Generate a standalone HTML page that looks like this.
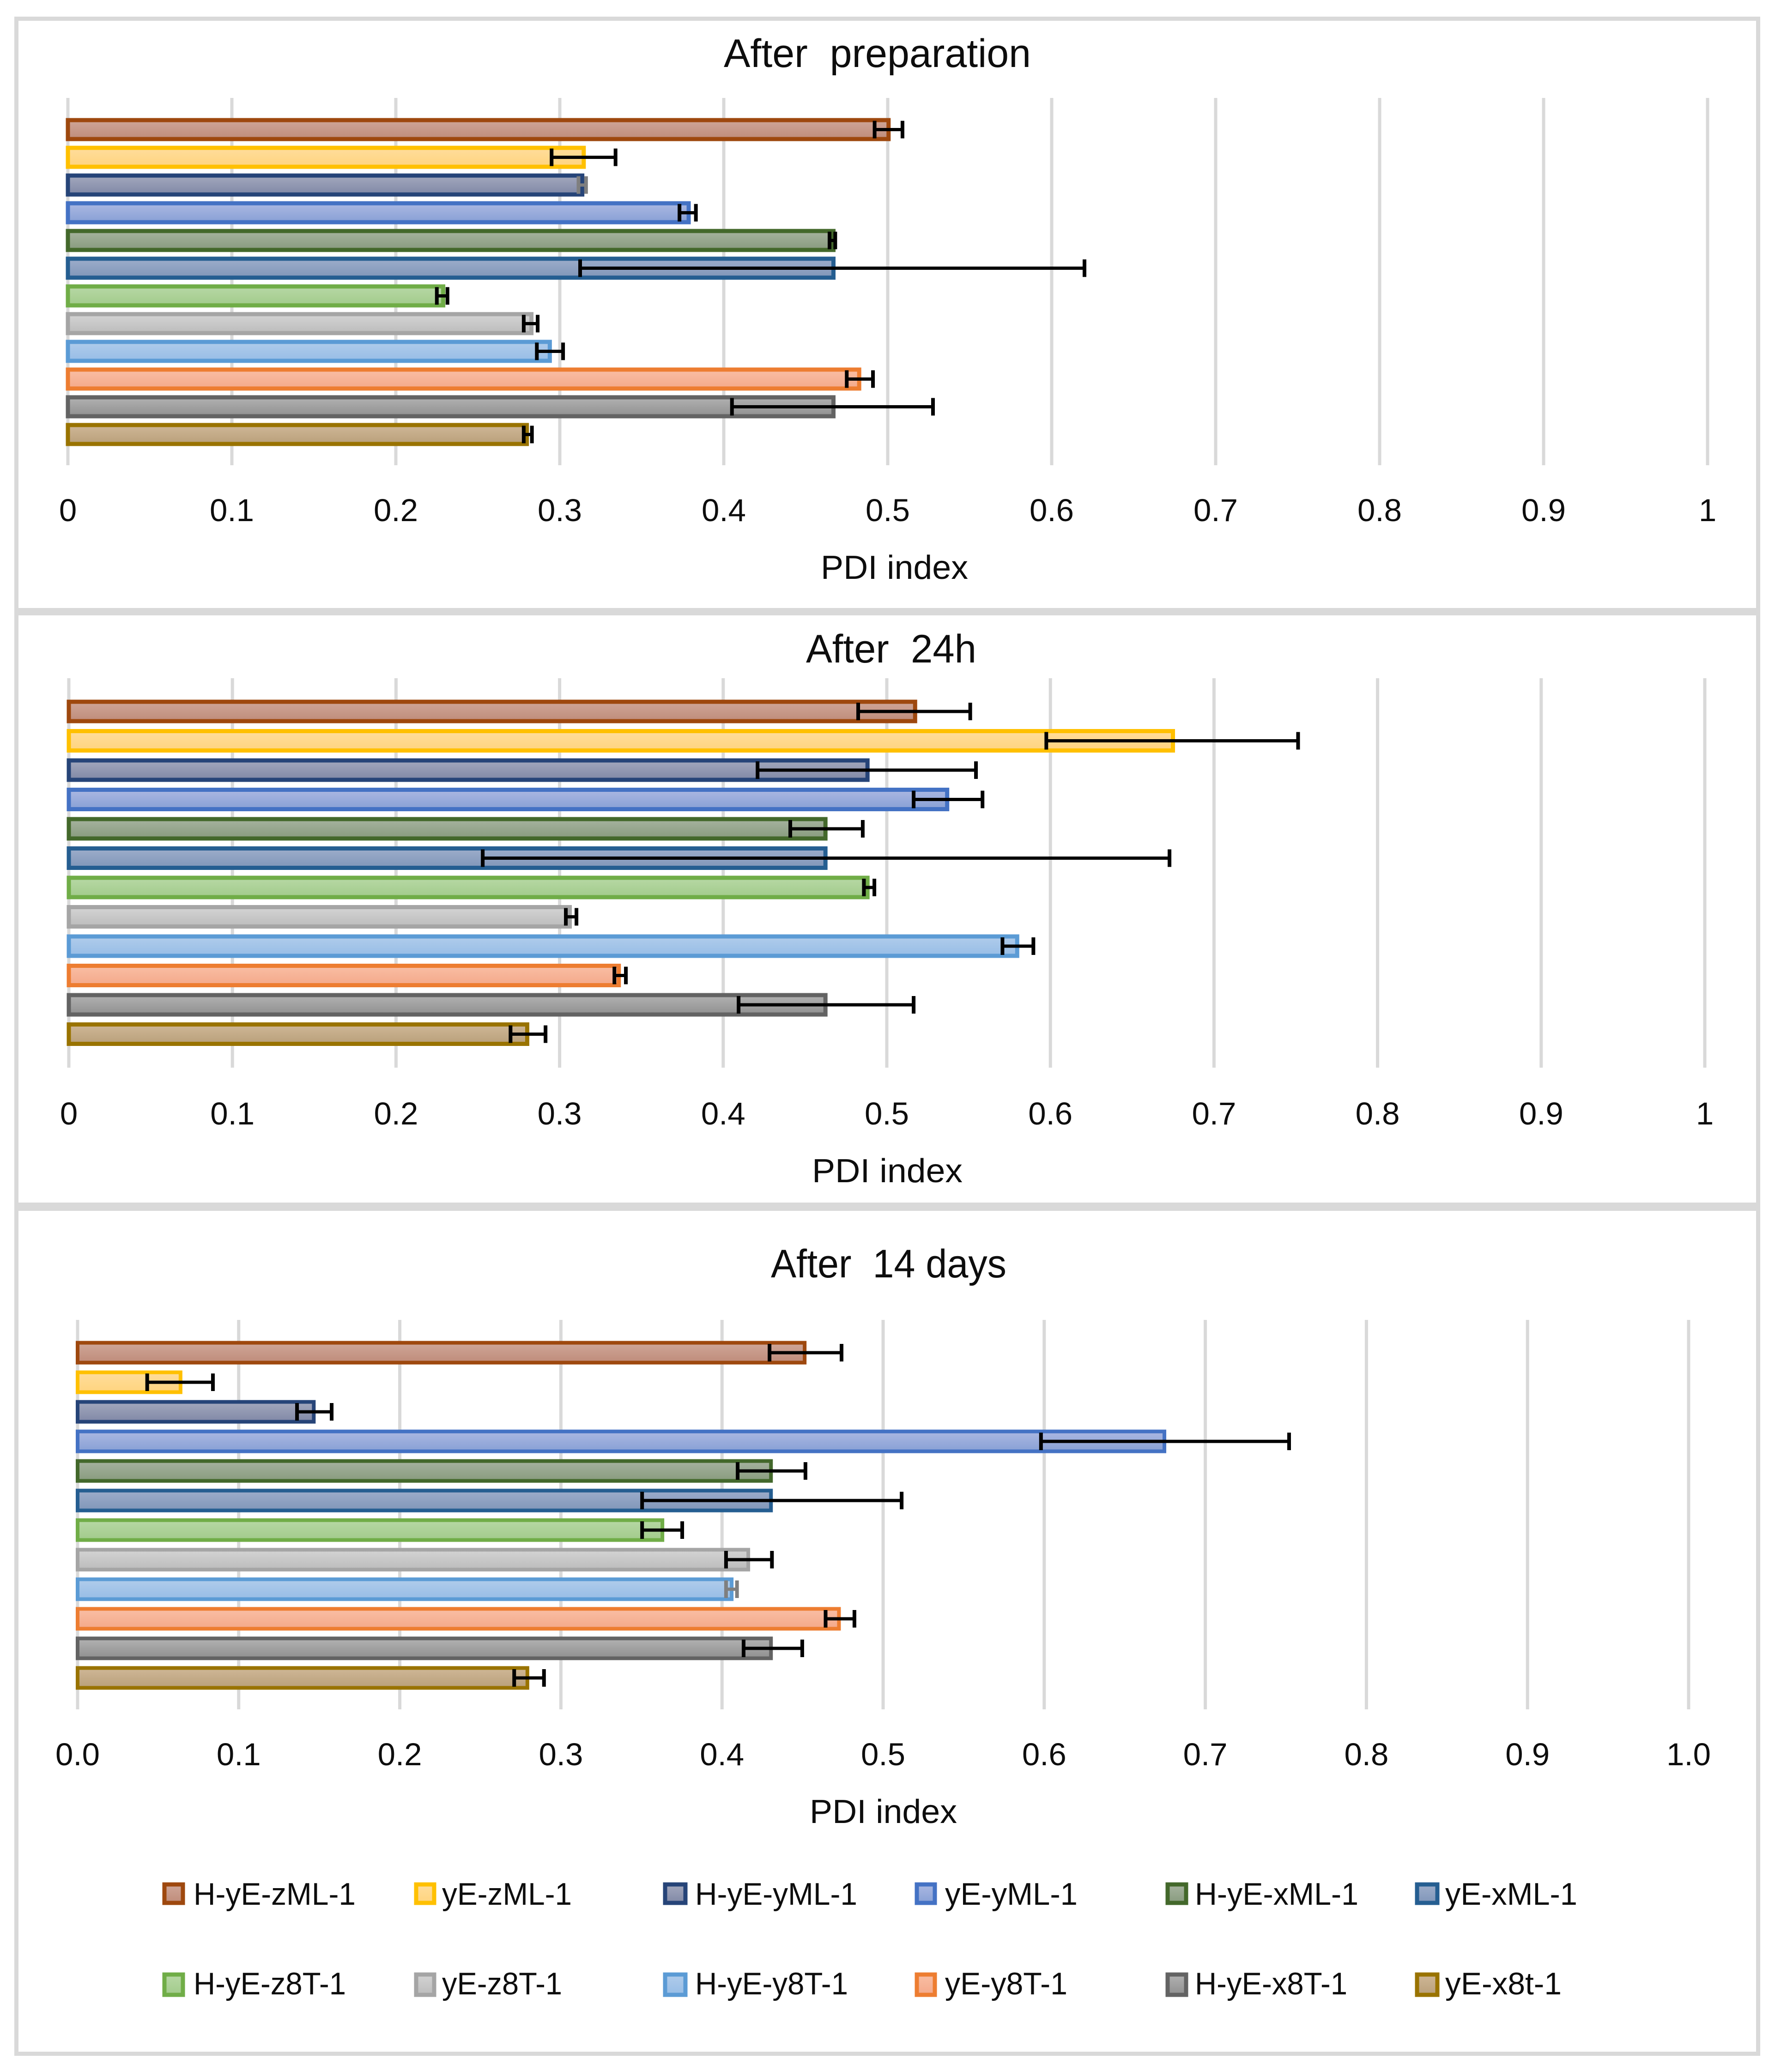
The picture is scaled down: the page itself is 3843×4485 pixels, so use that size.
<!DOCTYPE html>
<html lang="en">
<head>
<meta charset="utf-8">
<title>PDI index charts</title>
<style>
  html, body { margin: 0; padding: 0; background: #ffffff; }
  svg { display: block; }
  text { font-family: "Liberation Sans", sans-serif; fill: #0d0d0d; white-space: pre; }
</style>
</head>
<body>
<svg id="figure" xmlns="http://www.w3.org/2000/svg" width="3843" height="4485" viewBox="0 0 3843 4485">
  <rect x="0" y="0" width="3843" height="4485" fill="#ffffff"/>
  <defs id="gradients"></defs>
  <g fill="#d9d9d9">
    <rect x="31" y="36" width="9" height="4414"/>
    <rect x="3802" y="36" width="9" height="4414"/>
    <rect x="31" y="36" width="3780" height="9"/>
    <rect x="31" y="1316" width="3780" height="16"/>
    <rect x="31" y="2603" width="3780" height="18"/>
    <rect x="31" y="4441" width="3780" height="9"/>
  </g>
  <g id="charts"></g>
  <g font-size="68">
    <g><rect x="356" y="4079" width="40" height="40" fill="url(#grad-0)" stroke="#9E480E" stroke-width="9"/><text x="419" y="4123" textLength="351" lengthAdjust="spacingAndGlyphs">H-yE-zML-1</text></g>
    <g><rect x="901" y="4079" width="39" height="40" fill="url(#grad-1)" stroke="#FFC000" stroke-width="9"/><text x="957" y="4123" textLength="281" lengthAdjust="spacingAndGlyphs">yE-zML-1</text></g>
    <g><rect x="1440" y="4079" width="44" height="40" fill="url(#grad-2)" stroke="#264478" stroke-width="9"/><text x="1505" y="4123" textLength="351" lengthAdjust="spacingAndGlyphs">H-yE-yML-1</text></g>
    <g><rect x="1985" y="4079" width="39" height="40" fill="url(#grad-3)" stroke="#4472C4" stroke-width="9"/><text x="2046" y="4123" textLength="287" lengthAdjust="spacingAndGlyphs">yE-yML-1</text></g>
    <g><rect x="2528" y="4079" width="40" height="40" fill="url(#grad-4)" stroke="#43682B" stroke-width="9"/><text x="2587" y="4123" textLength="354" lengthAdjust="spacingAndGlyphs">H-yE-xML-1</text></g>
    <g><rect x="3068" y="4079" width="44" height="40" fill="url(#grad-5)" stroke="#255E91" stroke-width="9"/><text x="3129" y="4123" textLength="286" lengthAdjust="spacingAndGlyphs">yE-xML-1</text></g>
    <g><rect x="356" y="4274" width="40" height="44" fill="url(#grad-6)" stroke="#70AD47" stroke-width="9"/><text x="419" y="4317" textLength="330" lengthAdjust="spacingAndGlyphs">H-yE-z8T-1</text></g>
    <g><rect x="901" y="4274" width="39" height="44" fill="url(#grad-7)" stroke="#A5A5A5" stroke-width="9"/><text x="957" y="4317" textLength="260" lengthAdjust="spacingAndGlyphs">yE-z8T-1</text></g>
    <g><rect x="1440" y="4274" width="44" height="44" fill="url(#grad-8)" stroke="#5B9BD5" stroke-width="9"/><text x="1505" y="4317" textLength="331" lengthAdjust="spacingAndGlyphs">H-yE-y8T-1</text></g>
    <g><rect x="1985" y="4274" width="39" height="44" fill="url(#grad-9)" stroke="#ED7D31" stroke-width="9"/><text x="2046" y="4317" textLength="265" lengthAdjust="spacingAndGlyphs">yE-y8T-1</text></g>
    <g><rect x="2528" y="4274" width="40" height="44" fill="url(#grad-10)" stroke="#636363" stroke-width="9"/><text x="2587" y="4317" textLength="330" lengthAdjust="spacingAndGlyphs">H-yE-x8T-1</text></g>
    <g><rect x="3068" y="4274" width="44" height="44" fill="url(#grad-11)" stroke="#997300" stroke-width="9"/><text x="3129" y="4317" textLength="252" lengthAdjust="spacingAndGlyphs">yE-x8t-1</text></g>
  </g>
</svg>
<script>
// ---- Data ----
const seriesNames = ['H-yE-zML-1','yE-zML-1','H-yE-yML-1','yE-yML-1','H-yE-xML-1','yE-xML-1','H-yE-z8T-1','yE-z8T-1','H-yE-y8T-1','yE-y8T-1','H-yE-x8T-1','yE-x8t-1'];

const prepValues = [0.5005,0.3146,0.3137,0.3786,0.4669,0.4669,0.2289,0.2827,0.2939,0.4826,0.4669,0.2799];
const prepLow    = [0.492,0.295,0.3114,0.373,0.4645,0.3124,0.225,0.278,0.286,0.475,0.405,0.278];
const prepHigh   = [0.509,0.334,0.316,0.383,0.468,0.62,0.2315,0.2865,0.302,0.491,0.5276,0.283];

const day1Values = [0.5173,0.6749,0.4882,0.5369,0.4625,0.4625,0.4882,0.3062,0.5797,0.3362,0.4625,0.2802];
const day1Low    = [0.4825,0.5975,0.421,0.5164,0.441,0.253,0.486,0.3038,0.5707,0.3335,0.4094,0.27];
const day1High   = [0.551,0.7514,0.5545,0.5585,0.4853,0.6728,0.4924,0.3103,0.5896,0.3405,0.5164,0.2914];

const day14Values = [0.4513,0.0639,0.1466,0.6746,0.4304,0.4304,0.363,0.4163,0.406,0.4726,0.4304,0.2792];
const day14Low    = [0.4295,0.0432,0.1362,0.598,0.4097,0.3504,0.3504,0.4025,0.4025,0.4643,0.4134,0.271];
const day14High   = [0.4742,0.084,0.1577,0.752,0.4518,0.5115,0.3753,0.431,0.4093,0.4822,0.4498,0.2895];

const tickValues = [0,0.1,0.2,0.3,0.4,0.5,0.6,0.7,0.8,0.9,1];
const tickLabelsPlain = ['0','0.1','0.2','0.3','0.4','0.5','0.6','0.7','0.8','0.9','1'];
const tickLabelsFixed = ['0.0','0.1','0.2','0.3','0.4','0.5','0.6','0.7','0.8','0.9','1.0'];

// ---- Styling ----
const strokeColors = ['#9E480E','#FFC000','#264478','#4472C4','#43682B','#255E91','#70AD47','#A5A5A5','#5B9BD5','#ED7D31','#636363','#997300'];
const fillTop    = ['#CFA698','#FFDD9C','#A3A8BD','#ABB8E2','#A6B39F','#9DADCA','#B7D8A5','#D4D4D4','#B0CCEB','#F9BEA4','#B2B2B2','#CFB797'];
const fillBottom = ['#BF8C7A','#FFD47E','#8088A6','#88A0D5','#889B7E','#8096B9','#A2CB8B','#BCBCBC','#97BDE6','#F4A98A','#909090','#B9A07A'];

const NS = 'http://www.w3.org/2000/svg';
function make(tag, attrs) {
  const node = document.createElementNS(NS, tag);
  for (const key in attrs) node.setAttribute(key, attrs[key]);
  return node;
}

const defs = document.getElementById('gradients');
seriesNames.forEach(function (name, i) {
  const grad = make('linearGradient', { id: 'grad-' + i, x1: 0, y1: 0, x2: 0, y2: 1 });
  grad.appendChild(make('stop', { offset: '0%', 'stop-color': fillTop[i] }));
  grad.appendChild(make('stop', { offset: '100%', 'stop-color': fillBottom[i] }));
  defs.appendChild(grad);
});

function slug(text) {
  return text.toLowerCase().replace(/[^a-z0-9]+/g, '-');
}

function drawChart(cfg) {
  const root = document.getElementById('charts');
  const x = function (v) { return cfg.x0 + v * (cfg.x1 - cfg.x0); };
  const y = function (i) { return cfg.firstBar + i * cfg.barStep; };

  const chart = make('g', {});
  
  
  root.appendChild(chart);

  const title = make('text', { x: cfg.titleX, y: cfg.titleY, 'font-size': 86, textLength: cfg.titleW, lengthAdjust: 'spacingAndGlyphs' });
  
  
  title.textContent = cfg.title;
  chart.appendChild(title);

  tickValues.forEach(function (t, k) {
    const grid = make('line', { x1: x(t), x2: x(t), y1: cfg.gridTop, y2: cfg.gridBottom, stroke: '#d9d9d9', 'stroke-width': 7 });
    
    
    chart.appendChild(grid);

    const label = make('text', { x: x(t), y: cfg.tickY, 'font-size': 69, 'text-anchor': 'middle' });
    
    
    label.textContent = cfg.tickLabels[k];
    chart.appendChild(label);
  });

  const axisTitle = make('text', { x: cfg.axisX, y: cfg.axisY, 'font-size': 72, textLength: cfg.axisW, lengthAdjust: 'spacingAndGlyphs' });
  
  
  axisTitle.textContent = 'PDI index';
  chart.appendChild(axisTitle);

  cfg.values.forEach(function (v, i) {
    const bar = make('rect', {
      x: x(0), y: y(i) - cfg.barH / 2, width: x(v) - x(0), height: cfg.barH,
      fill: 'url(#grad-' + i + ')', stroke: strokeColors[i], 'stroke-width': cfg.barStroke
    });
    
    
    chart.appendChild(bar);
  });

  cfg.values.forEach(function (v, i) {
    const colour = cfg.greyError === i ? '#7f7f7f' : '#000000';
    const group = make('g', { stroke: colour, fill: 'none' });
    
    
    group.appendChild(make('line', { x1: x(cfg.low[i]), x2: x(cfg.high[i]), y1: y(i), y2: y(i), 'stroke-width': 7 }));
    group.appendChild(make('line', { x1: x(cfg.low[i]), x2: x(cfg.low[i]), y1: y(i) - 19, y2: y(i) + 19, 'stroke-width': 8 }));
    group.appendChild(make('line', { x1: x(cfg.high[i]), x2: x(cfg.high[i]), y1: y(i) - 19, y2: y(i) + 19, 'stroke-width': 8 }));
    chart.appendChild(group);
  });
}

drawChart({
  title: 'After  preparation', titleX: 1567, titleY: 145, titleW: 665,
  values: prepValues, low: prepLow, high: prepHigh, greyError: 2,
  tickLabels: tickLabelsPlain,
  x0: 147, x1: 3697, gridTop: 212, gridBottom: 1007, tickY: 1128,
  firstBar: 280.5, barStep: 60, barH: 41, barStroke: 9,
  axisX: 1777, axisY: 1253, axisW: 319
});

drawChart({
  title: 'After  24h', titleX: 1745, titleY: 1434, titleW: 369,
  values: day1Values, low: day1Low, high: day1High, greyError: -1,
  tickLabels: tickLabelsPlain,
  x0: 149, x1: 3691, gridTop: 1468, gridBottom: 2311, tickY: 2434,
  firstBar: 1540, barStep: 63.5, barH: 42, barStroke: 9,
  axisX: 1758, axisY: 2559, axisW: 326
});

drawChart({
  title: 'After  14 days', titleX: 1669, titleY: 2765, titleW: 510,
  values: day14Values, low: day14Low, high: day14High, greyError: 8,
  tickLabels: tickLabelsFixed,
  x0: 168, x1: 3656, gridTop: 2857, gridBottom: 3700, tickY: 3821,
  firstBar: 2928, barStep: 64, barH: 43, barStroke: 8,
  axisX: 1753, axisY: 3946, axisW: 319
});
</script>
</body>
</html>
